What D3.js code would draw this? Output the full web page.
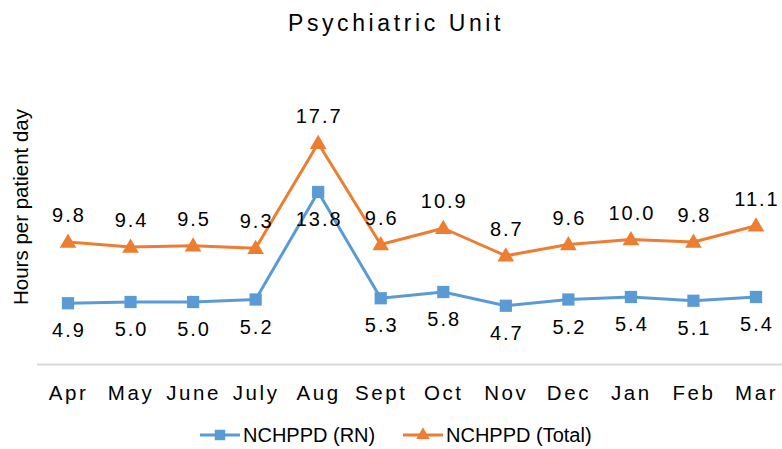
<!DOCTYPE html>
<html><head><meta charset="utf-8">
<script src="https://cdnjs.cloudflare.com/ajax/libs/d3/7.8.5/d3.min.js"></script>
<style>
html,body{margin:0;padding:0;background:#fff;}
text{font-family:"Liberation Sans",Arial,sans-serif;fill:#000;}
</style></head>
<body><svg id="c" width="782" height="449"></svg>
<script>
const categories = ["Apr","May","June","July","Aug","Sept","Oct","Nov","Dec","Jan","Feb","Mar"];
const rnValues = [4.9,5.0,5.0,5.2,13.8,5.3,5.8,4.7,5.2,5.4,5.1,5.4];
const totalValues = [9.8,9.4,9.5,9.3,17.7,9.6,10.9,8.7,9.6,10.0,9.8,11.1];
const seriesNames = ["NCHPPD (RN)","NCHPPD (Total)"];
const colors = ["#5B9BD5","#ED7D31"];
const title = "Psychiatric Unit";
const yTitle = "Hours per patient day";

const svg = d3.select("#c");
const x = d3.scalePoint().domain(categories).range([68,756]);
const y = d3.scaleLinear().domain([0,20]).range([364.5,114.5]);

svg.append("text").attr("x",396).attr("y",31).attr("text-anchor","middle")
  .style("font-size","23px").style("letter-spacing","3.6px").text(title);

svg.append("text").attr("transform","translate(28,207) rotate(-90)").attr("text-anchor","middle")
  .style("font-size","20.5px").text(yTitle);

// x axis
const xAxis = d3.axisBottom(x).tickSize(0).tickPadding(0);
const gx = svg.append("g").attr("transform","translate(0,364.5)").call(xAxis);
gx.select(".domain").remove();
gx.append("line").attr("x1",37).attr("x2",782).attr("y1",0).attr("y2",0)
  .attr("stroke","#D9D9D9").attr("stroke-width",2);
gx.selectAll(".tick text").attr("y",35).attr("dy",0).attr("dx","0px")
  .style("font-size","20.5px").style("letter-spacing","2.6px")
  .style("font-family","'Liberation Sans',Arial,sans-serif").attr("fill","#111");

const series = [
  {name:seriesNames[0], values:rnValues, color:colors[0], shape:d3.symbolSquare, labelDy:34},
  {name:seriesNames[1], values:totalValues, color:colors[1], shape:d3.symbolTriangle, labelDy:-20}
];
const line = d3.line().x((d,i)=>x(categories[i])).y(d=>y(d));

series.forEach(s=>{
  const g = svg.append("g");
  g.append("path").datum(s.values).attr("d",line).attr("fill","none")
    .attr("stroke",s.color).attr("stroke-width",3).attr("stroke-linejoin","round");
  const sym = d3.symbol().type(s.shape).size(s.shape===d3.symbolSquare?150:120);
  g.selectAll("path.m").data(s.values).enter().append("path").attr("class","m")
    .attr("d",sym).attr("fill",s.color)
    .attr("transform",(d,i)=>`translate(${x(categories[i])},${y(d)+(s.shape===d3.symbolTriangle?1:0)})`);
  g.selectAll("text").data(s.values).enter().append("text")
    .attr("x",(d,i)=>x(categories[i])+1).attr("y",d=>y(d)+s.labelDy)
    .attr("text-anchor","middle").style("font-size","20px").style("letter-spacing","2px")
    .text(d=>d.toFixed(1));
});

// legend
const legend = [{x:200},{x:403}];
series.forEach((s,i)=>{
  const lx = legend[i].x, ly = 435;
  const g = svg.append("g");
  g.append("line").attr("x1",lx).attr("x2",lx+40).attr("y1",ly).attr("y2",ly)
    .attr("stroke",s.color).attr("stroke-width",3);
  const sym = d3.symbol().type(s.shape).size(s.shape===d3.symbolSquare?110:80);
  g.append("path").attr("d",sym).attr("fill",s.color).attr("transform",`translate(${lx+20},${ly})`);
  g.append("text").attr("x",lx+43).attr("y",ly+7).style("font-size","20px").text(s.name);
});
</script></body></html>
